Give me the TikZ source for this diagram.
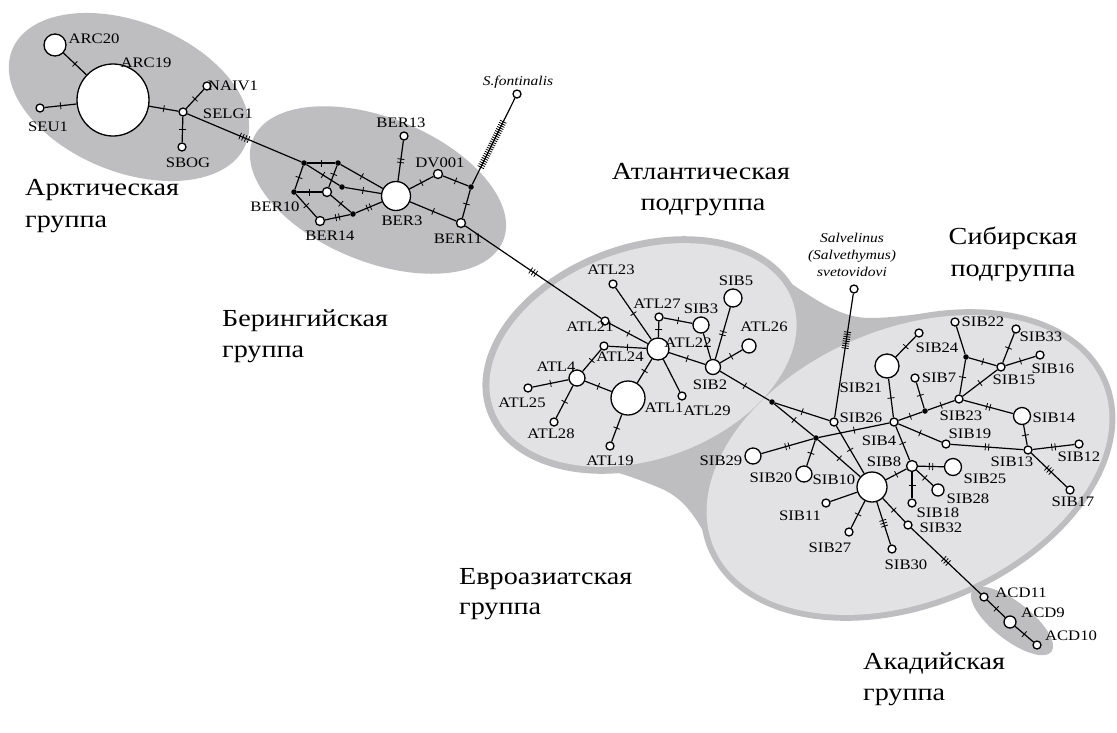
\documentclass[tikz,border=0pt]{standalone}
\usepackage{fontspec}
\setmainfont{Liberation Serif}[FakeStretch=1.15]
\usetikzlibrary{decorations.markings}
\definecolor{dg}{RGB}{190,190,192}
\definecolor{lg}{RGB}{226,226,228}
\begin{document}
\begin{tikzpicture}[x=1pt,y=-1pt,
  hp/.style={circle,draw,fill=white,line width=1.3pt,inner sep=0pt,minimum size=8pt},
  jn/.style={circle,fill=black,inner sep=0pt,minimum size=5.5pt},
  ed/.style={line width=1.2pt},
  tickln/.style={line width=0.8pt},
  t1/.style={postaction={decorate,decoration={markings,mark=at position #1 with {\draw[tickln] (0,-3.5)--(0,3.5);}}}},
  t2/.style={postaction={decorate,decoration={markings,mark=at position #1 with {\draw[tickln] (-1.7,-3.5)--(-1.7,3.5) (1.7,-3.5)--(1.7,3.5);}}}},
  t3/.style={postaction={decorate,decoration={markings,mark=at position #1 with {\draw[tickln] (-3,-3.5)--(-3,3.5) (0,-3.5)--(0,3.5) (3,-3.5)--(3,3.5);}}}},
  t4/.style={postaction={decorate,decoration={markings,mark=at position #1 with {\draw[tickln] (-4.5,-3.5)--(-4.5,3.5) (-1.5,-3.5)--(-1.5,3.5) (1.5,-3.5)--(1.5,3.5) (4.5,-3.5)--(4.5,3.5);}}}},
  hatch/.style 2 args={postaction={decorate,decoration={markings,mark=between positions #1 and #2 step 2.3pt with {\draw[tickln] (0,-3.5)--(0,3.5);}}}},
  lab/.style={inner sep=0pt,font=\fontsize{14.5}{16}\selectfont},
  big/.style={inner sep=0pt,anchor=base west,font=\fontsize{24.5}{30}\selectfont},
  bigc/.style={inner sep=0pt,anchor=base,font=\fontsize{24.5}{30}\selectfont}]
\fill[white] (0,0) rectangle (1117,732);
\useasboundingbox (0,0) rectangle (1117,732);
% ---------- backgrounds
\fill[dg,rotate around={-22:(129,97)}] (129,97) ellipse [x radius=126,y radius=75];
\fill[dg,rotate around={-22:(378,190)}] (378,190) ellipse [x radius=135,y radius=72];
\fill[dg,rotate around={-38:(1012,621)}] (1012,621) ellipse [x radius=50,y radius=19];
\fill[dg,rotate around={20:(643,355)}] (643,355) ellipse [x radius=166,y radius=111];
\fill[dg,rotate around={23:(908,465)}] (908,465) ellipse [x radius=217,y radius=142];
\fill[dg] (755,262) .. controls (800,285) and (830,318) .. (870,318)
  .. controls (905,318) and (945,308) .. (990,310) -- (735,585)
  .. controls (705,545) and (700,505) .. (660,488)
  .. controls (640,480) and (625,474) .. (600,468) -- cycle;
\fill[lg,rotate around={20:(643,355)}] (643,355) ellipse [x radius=159,y radius=104];
\fill[lg,rotate around={23:(908,465)}] (908,465) ellipse [x radius=211,y radius=136];
% ---------- group labels
\node[big] (g1a) at (25,195) {Арктическая};
\node[big] (g1b) at (25,227) {группа};
\node[big] (g2a) at (222,326) {Берингийская};
\node[big] (g2b) at (222,357) {группа};
\node[bigc] (g3a) at (701,179) {Атлантическая};
\node[bigc] (g3b) at (703,210) {подгруппа};
\node[bigc] (g4a) at (1013,244) {Сибирская};
\node[bigc] (g4b) at (1013,276) {подгруппа};
\node[big] (g5a) at (459,584) {Евроазиатская};
\node[big] (g5b) at (459,614) {группа};
\node[big] (g6a) at (863,669) {Акадийская};
\node[big] (g6b) at (863,700) {группа};
% ---------- nodes: Arctic
\node[hp,minimum size=22pt] (ARC20) at (55,45) {};
\node[hp,minimum size=72pt] (ARC19) at (113,100) {};
\node[hp] (SEU1) at (40,108) {};
\node[hp] (SELG1) at (183,112) {};
\node[hp] (NAIV1) at (207,86) {};
\node[hp] (SBOG) at (182,147) {};
% Beringian
\node[jn] (j1) at (304,163) {};
\node[jn] (j2) at (338,163) {};
\node[jn] (j3) at (294,192) {};
\node[jn] (j4) at (342,187) {};
\node[jn] (j5) at (353,214) {};
\node[jn] (j6) at (471,187) {};
\node[hp,minimum size=9pt] (BER10) at (327,192) {};
\node[hp,minimum size=9pt] (BER14) at (320,221) {};
\node[hp,minimum size=29pt] (BER3) at (396,196) {};
\node[hp] (BER13) at (404,136) {};
\node[hp,minimum size=9pt] (DV001) at (438,174) {};
\node[hp,minimum size=9pt] (BER11) at (461,223) {};
\node[hp] (SFONT) at (517,94) {};
% Atlantic
\node[hp] (ATL23) at (613,284) {};
\node[hp] (ATL27) at (659,317) {};
\node[hp,minimum size=16pt] (SIB3) at (701,325) {};
\node[hp,minimum size=18pt] (SIB5) at (733,298) {};
\node[hp] (ATL21) at (605,321) {};
\node[hp,minimum size=22pt] (ATL22) at (658,349) {};
\node[hp,minimum size=14pt] (ATL26) at (749,346) {};
\node[hp] (ATL24) at (604,346) {};
\node[hp,minimum size=16pt] (ATL4) at (577,378) {};
\node[hp] (ATL25) at (528,388) {};
\node[hp] (ATL28) at (554,422) {};
\node[hp,minimum size=34pt] (ATL1) at (628,398) {};
\node[hp] (ATL29) at (682,396) {};
\node[hp] (ATL19) at (610,446) {};
\node[hp,minimum size=15pt] (SIB2) at (713,367) {};
\node[jn] (jeur) at (772,402) {};
% Siberian
\node[hp] (SVET) at (854,289) {};
\node[hp] (SIB26) at (834,422) {};
\node[jn] (j2e) at (816,438) {};
\node[hp,minimum size=16pt] (SIB29) at (753,456) {};
\node[hp,minimum size=16pt] (SIB20) at (804,474) {};
\node[hp,minimum size=30pt] (SIB10) at (872,487) {};
\node[hp,minimum size=24pt] (SIB21) at (887,366) {};
\node[hp] (SIB24) at (919,333) {};
\node[hp] (SIB7) at (915,378) {};
\node[jn] (j7) at (925,411) {};
\node[hp] (SIB4) at (894,422) {};
\node[hp] (SIB23) at (959,399) {};
\node[jn] (j22) at (966,357) {};
\node[hp] (SIB22) at (955,322) {};
\node[hp] (SIB15) at (1001,367) {};
\node[hp] (SIB33) at (1016,329) {};
\node[hp] (SIB16) at (1040,355) {};
\node[hp,minimum size=17pt] (SIB14) at (1022,416) {};
\node[hp] (SIB19) at (946,444) {};
\node[hp] (SIB13) at (1028,450) {};
\node[hp] (SIB12) at (1079,444) {};
\node[hp] (SIB17) at (1070,490) {};
\node[hp,minimum size=11pt] (SIB8) at (912,466) {};
\node[hp,minimum size=17pt] (SIB25) at (953,467) {};
\node[hp,minimum size=12pt] (SIB28) at (938,490) {};
\node[hp] (SIB18) at (912,503) {};
\node[hp] (SIB32) at (908,525) {};
\node[hp] (SIB11) at (826,503) {};
\node[hp] (SIB27) at (849,532) {};
\node[hp] (SIB30) at (892,549) {};
\node[hp] (ACD11) at (984,597) {};
\node[hp,minimum size=12pt] (ACD9) at (1010,622) {};
\node[hp] (ACD10) at (1037,645) {};
% ---------- edges
\begin{scope}[ed]
\draw[t1=0.5] (ARC20) -- (ARC19);
\draw[t1=0.5] (SEU1) -- (ARC19);
\draw[t1=0.5] (ARC19) -- (SELG1);
\draw[t1=0.5] (SELG1) -- (NAIV1);
\draw[t1=0.5] (SELG1) -- (SBOG);
\draw[t4=0.5] (SELG1) -- (j1);
\draw[t1=0.5] (j1) -- (j2);
\draw[t1=0.5] (j1) -- (j3);
\draw[t1=0.5] (j1) -- (j4);
\draw[t1=0.5] (j2) -- (BER3);
\draw[t1=0.4] (j2) -- (BER10);
\draw[t1=0.5] (j3) -- (BER10);
\draw[t1=0.5] (j3) -- (BER14);
\draw[t1=0.5] (BER10) -- (j5);
\draw[t1=0.5] (j4) -- (BER3);
\draw[t2=0.5] (j5) -- (BER14);
\draw[t2=0.5] (j5) -- (BER3);
\draw[t2=0.5] (BER3) -- (BER13);
\draw[t1=0.5] (BER3) -- (DV001);
\draw[t1=0.5] (DV001) -- (j6);
\draw[t1=0.5] (j6) -- (BER11);
\draw[hatch={0.2}{0.75}] (j6) -- (SFONT);
\draw[t1=0.5] (BER3) -- (BER11);
\draw[t3=0.5] (BER11) -- (ATL21);
\draw[t1=0.5] (ATL21) -- (ATL22);
\draw[t1=0.5] (ATL23) -- (ATL22);
\draw[t1=0.5] (ATL27) -- (ATL22);
\draw[t1=0.5] (ATL27) -- (SIB3);
\draw[t1=0.5] (ATL24) -- (ATL22);
\draw[t1=0.5] (ATL24) -- (ATL4);
\draw[t1=0.5] (ATL4) -- (ATL25);
\draw[t1=0.5] (ATL4) -- (ATL28);
\draw[t1=0.5] (ATL4) -- (ATL1);
\draw[t1=0.5] (ATL1) -- (ATL22);
\draw[t1=0.5] (ATL1) -- (ATL19);
\draw (ATL22) -- (ATL29);
\draw[t1=0.5] (ATL22) -- (SIB2);
\draw (SIB2) -- (SIB3);
\draw[t2=0.5] (SIB2) -- (SIB5);
\draw[t1=0.5] (SIB2) -- (ATL26);
\draw[t1=0.5] (SIB2) -- (jeur);
\draw[t1=0.5] (jeur) -- (SIB26);
\draw[t1=0.5] (jeur) -- (j2e);
\draw[t1=0.5] (j2e) -- (SIB10);
\draw[t1=0.5] (SIB26) -- (SIB10);
\draw[hatch={0.56}{0.69}] (SIB26) -- (SVET);
\draw[t2=0.5] (j2e) -- (SIB29);
\draw[t1=0.5] (j2e) -- (SIB20);
\draw[t1=0.5] (j2e) -- (SIB4);
\draw[t1=0.5] (SIB4) -- (SIB21);
\draw[t1=0.5] (SIB21) -- (SIB24);
\draw[t1=0.5] (SIB4) -- (j7);
\draw[t1=0.5] (j7) -- (SIB7);
\draw[t1=0.5] (j7) -- (SIB23);
\draw[t1=0.5] (SIB23) -- (j22);
\draw (j22) -- (SIB22);
\draw[t1=0.5] (j22) -- (SIB15);
\draw[t1=0.5] (SIB23) -- (SIB15);
\draw[t1=0.5] (SIB15) -- (SIB33);
\draw[t1=0.5] (SIB15) -- (SIB16);
\draw[t2=0.5] (SIB23) -- (SIB14);
\draw[t1=0.5] (SIB4) -- (SIB19);
\draw[t2=0.5] (SIB19) -- (SIB13);
\draw[t1=0.5] (SIB14) -- (SIB13);
\draw[t2=0.5] (SIB13) -- (SIB12);
\draw[t3=0.5] (SIB13) -- (SIB17);
\draw[t1=0.5] (SIB4) -- (SIB8);
\draw[t1=0.5] (SIB8) -- (SIB10);
\draw[t2=0.5] (SIB8) -- (SIB25);
\draw[t1=0.5] (SIB8) -- (SIB28);
\draw[t1=0.5] (SIB8) -- (SIB18);
\draw (SIB10) -- (SIB11);
\draw[t1=0.5] (SIB10) -- (SIB27);
\draw[t3=0.5] (SIB10) -- (SIB30);
\draw[t1=0.5] (SIB10) -- (SIB32);
\draw[t3=0.5] (SIB32) -- (ACD11);
\draw[t1=0.5] (ACD11) -- (ACD9);
\draw[t1=0.5] (ACD9) -- (ACD10);
\end{scope}
% ---------- labels
\node[lab] (lARC20) at (94,39) {ARC20};
\node[lab] (lARC19) at (146,63) {ARC19};
\node[lab] (lSEU1) at (48,127) {SEU1};
\node[lab] (lSELG1) at (228,114) {SELG1};
\node[lab] (lNAIV1) at (233,86) {NAIV1};
\node[lab] (lSBOG) at (188,163) {SBOG};
\node[lab] (lBER13) at (401,123) {BER13};
\node[lab] (lDV001) at (440,163) {DV001};
\node[lab] (lBER10) at (275,207) {BER10};
\node[lab] (lBER14) at (330,236) {BER14};
\node[lab] (lBER3) at (402,221) {BER3};
\node[lab] (lBER11) at (458,239) {BER11};
\node[lab,font=\fontsize{13.5}{15}\selectfont\itshape] (lSFONT) at (518,82) {S.fontinalis};
\node[lab] (lATL23) at (611,270) {ATL23};
\node[lab] (lATL27) at (657,304) {ATL27};
\node[lab] (lSIB3) at (701,309) {SIB3};
\node[lab] (lSIB5) at (736,281) {SIB5};
\node[lab] (lATL21) at (590,327) {ATL21};
\node[lab] (lATL22) at (688,343) {ATL22};
\node[lab] (lATL26) at (764,327) {ATL26};
\node[lab] (lATL24) at (620,357) {ATL24};
\node[lab] (lATL4) at (556,367) {ATL4};
\node[lab] (lATL25) at (522,403) {ATL25};
\node[lab] (lATL28) at (551,434) {ATL28};
\node[lab] (lATL1) at (664,408) {ATL1};
\node[lab] (lATL29) at (707,411) {ATL29};
\node[lab] (lATL19) at (610,461) {ATL19};
\node[lab] (lSIB2) at (710,385) {SIB2};
\node[lab,font=\fontsize{13.5}{17}\selectfont\itshape,align=center] (lSVET) at (852,255) {Salvelinus\\(Salvethymus)\\svetovidovi};
\node[lab] (lSIB26) at (861,418) {SIB26};
\node[lab] (lSIB29) at (721,461) {SIB29};
\node[lab] (lSIB20) at (771,478) {SIB20};
\node[lab] (lSIB10) at (834,480) {SIB10};
\node[lab] (lSIB21) at (861,388) {SIB21};
\node[lab] (lSIB4) at (879,441) {SIB4};
\node[lab] (lSIB8) at (884,462) {SIB8};
\node[lab] (lSIB24) at (937,348) {SIB24};
\node[lab] (lSIB22) at (983,322) {SIB22};
\node[lab] (lSIB33) at (1041,337) {SIB33};
\node[lab] (lSIB16) at (1053,369) {SIB16};
\node[lab] (lSIB15) at (1014,380) {SIB15};
\node[lab] (lSIB7) at (939,378) {SIB7};
\node[lab] (lSIB23) at (961,416) {SIB23};
\node[lab] (lSIB14) at (1054,418) {SIB14};
\node[lab] (lSIB19) at (970,434) {SIB19};
\node[lab] (lSIB13) at (1012,462) {SIB13};
\node[lab] (lSIB12) at (1079,457) {SIB12};
\node[lab] (lSIB17) at (1073,502) {SIB17};
\node[lab] (lSIB25) at (985,479) {SIB25};
\node[lab] (lSIB28) at (968,499) {SIB28};
\node[lab] (lSIB18) at (938,513) {SIB18};
\node[lab] (lSIB32) at (941,528) {SIB32};
\node[lab] (lSIB11) at (800,516) {SIB11};
\node[lab] (lSIB27) at (830,548) {SIB27};
\node[lab] (lSIB30) at (906,565) {SIB30};
\node[lab] (lACD11) at (1021,593) {ACD11};
\node[lab] (lACD9) at (1043,613) {ACD9};
\node[lab] (lACD10) at (1071,636) {ACD10};
\end{tikzpicture}
\end{document}
